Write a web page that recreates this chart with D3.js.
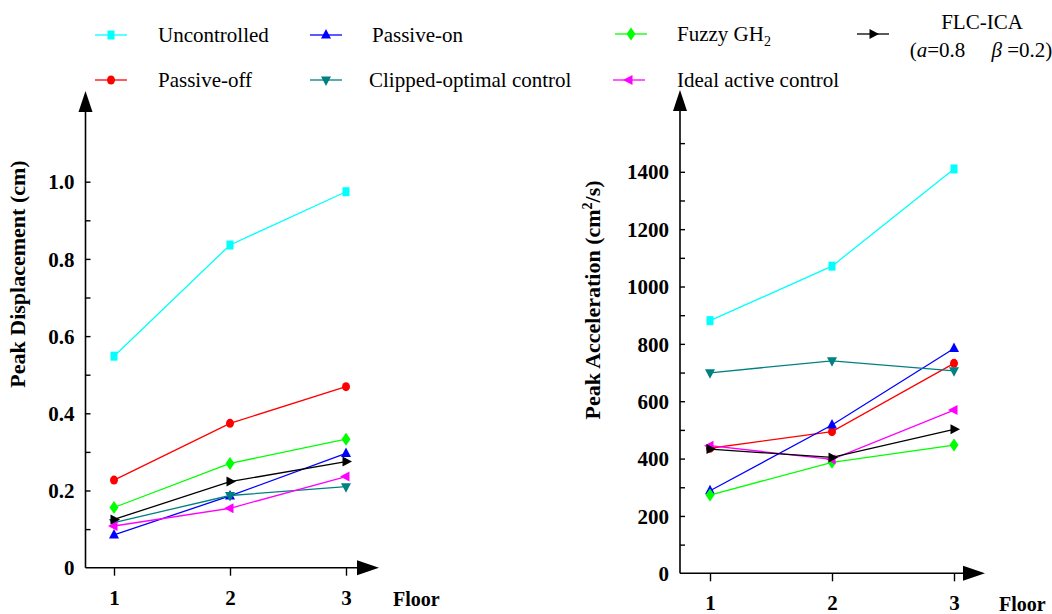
<!DOCTYPE html>
<html>
<head>
<meta charset="utf-8">
<script src="https://cdn.jsdelivr.net/npm/d3@7"></script>
<style>
  html, body { margin: 0; padding: 0; background: #fff; }
  svg { display: block; }
  text { font-family: "Liberation Serif", "Times New Roman", serif; fill: #000; }
</style>
</head>
<body>
<svg id="chart" width="1052" height="614"></svg>
<script>
// floors on the x axis
const floors = [1, 2, 3]

// peak displacement (cm)
const dispUncontrolled = [0.548, 0.836, 0.974]
const dispPassiveOff   = [0.227, 0.374, 0.469]
const dispPassiveOn    = [0.085, 0.186, 0.296]
const dispClipped      = [0.117, 0.187, 0.210]
const dispFuzzy        = [0.156, 0.270, 0.333]
const dispIdeal        = [0.108, 0.154, 0.236]
const dispFlcIca       = [0.125, 0.223, 0.275]

// peak acceleration (cm2/s)
const accUncontrolled = [881, 1071, 1410]
const accPassiveOff   = [436, 494, 732]
const accPassiveOn    = [288, 517, 784]
const accClipped      = [699, 741, 706]
const accFuzzy        = [273, 387, 447]
const accIdeal        = [445, 397, 569]
const accFlcIca       = [433, 404, 502]

const dispTicks = [0, 0.2, 0.4, 0.6, 0.8, 1.0]
const dispMinor = d3.range(1, 11).map(d => d / 10)
const accTicks = [0, 200, 400, 600, 800, 1000, 1200, 1400]
const accMinor = d3.range(100, 1600, 100)

const series = [
    { key: 'Uncontrolled', color: '#00ffff', shape: 'square', disp: dispUncontrolled, acc: accUncontrolled },
    { key: 'Passive-off', color: '#ff0000', shape: 'circle', disp: dispPassiveOff, acc: accPassiveOff },
    { key: 'Passive-on', color: '#0000ff', shape: 'up', disp: dispPassiveOn, acc: accPassiveOn },
    { key: 'Clipped-optimal control', color: '#008080', shape: 'down', disp: dispClipped, acc: accClipped },
    { key: 'Fuzzy GH2', color: '#00ff00', shape: 'diamond', disp: dispFuzzy, acc: accFuzzy },
    { key: 'Ideal active control', color: '#ff00ff', shape: 'left', disp: dispIdeal, acc: accIdeal },
    { key: 'FLC-ICA', color: '#000000', shape: 'right', disp: dispFlcIca, acc: accFlcIca }
]

const markerPath = {
    square: 'M-3.5,-4.5H3.5V4.5H-3.5Z',
    circle: 'M-4,0A4,4.5 0 1,0 4,0A4,4.5 0 1,0 -4,0Z',
    up: 'M0,-6L5,3.5L-5,3.5Z',
    down: 'M0,6L5,-3.5L-5,-3.5Z',
    left: 'M-6,0L3.5,-5L3.5,5Z',
    right: 'M6,0L-3.5,-5L-3.5,5Z',
    diamond: 'M0,-6.5L4.5,0L0,6.5L-4.5,0Z'
}

const svg = d3.select('#chart')

// one panel: axes with arrows, tick marks, lines and markers
const drawPanel = (opt) => {
    const g = svg.append('g')
    const x = d3.scaleLinear().domain([1, 3]).range(opt.xRange)
    const y = d3.scaleLinear().domain(opt.yDomain).range(opt.yRange)
    const x0 = opt.axisX, y0 = y(0)

    // y axis line + arrow
    g.append('line').attr('x1', x0).attr('x2', x0).attr('y1', y0).attr('y2', opt.arrowTop + 18)
        .attr('stroke', '#000').attr('stroke-width', 1.6)
    g.append('path').attr('d', `M${x0},${opt.arrowTop}L${x0 + 7},${opt.arrowTop + 21}L${x0 - 7},${opt.arrowTop + 21}Z`)
    // x axis line + arrow
    g.append('line').attr('x1', x0).attr('x2', opt.arrowRight - 18).attr('y1', y0).attr('y2', y0)
        .attr('stroke', '#000').attr('stroke-width', 1.6)
    g.append('path').attr('d', `M${opt.arrowRight},${y0}L${opt.arrowRight - 22},${y0 - 7.5}L${opt.arrowRight - 22},${y0 + 7.5}Z`)

    // y ticks point inward, labels on the left
    g.append('g').attr('transform', `translate(${x0},0)`)
        .call(d3.axisRight(y).tickValues(opt.minor).tickSize(5).tickFormat(''))
        .call(a => a.select('.domain').remove())
        .call(a => a.selectAll('line').attr('stroke-width', 1.4))
    g.append('g').attr('transform', `translate(${x0 - 8},0)`)
        .call(d3.axisLeft(y).tickValues(opt.major).tickSize(0).tickFormat(opt.fmt))
        .call(a => a.select('.domain').remove())
        .call(a => a.selectAll('text').attr('font-family', '"Liberation Serif", serif')
            .attr('font-size', 21).attr('font-weight', 'bold').attr('dy', '0.34em'))

    // x ticks point outward
    g.append('g').attr('transform', `translate(0,${y0})`)
        .call(d3.axisBottom(x).tickValues(floors).tickSize(8).tickFormat(d3.format('d')).tickPadding(14))
        .call(a => a.select('.domain').remove())
        .call(a => a.selectAll('line').attr('stroke-width', 1.4))
        .call(a => a.selectAll('text').attr('font-family', '"Liberation Serif", serif')
            .attr('font-size', 21).attr('font-weight', 'bold'))

    g.append('text').attr('x', opt.arrowRight + 14).attr('y', y0 + 38)
        .attr('font-size', 20).attr('font-weight', 'bold').text('Floor')

    // rotated y title
    const t = g.append('text')
        .attr('transform', `translate(${opt.titleX},${opt.titleY}) rotate(-90)`)
        .attr('text-anchor', 'middle').attr('font-size', 22).attr('font-weight', 'bold')
    if (opt.sup) {
        t.append('tspan').text('Peak Acceleration (cm')
        t.append('tspan').attr('font-size', 14).attr('dy', -8).text('2')
        t.append('tspan').attr('dy', 8).text('/s)')
    } else {
        t.text(opt.title)
    }

    const line = d3.line().x((d, i) => x(floors[i])).y(d => y(d))
    series.forEach(s => {
        const vals = s[opt.field]
        g.append('path').datum(vals).attr('d', line)
            .attr('fill', 'none').attr('stroke', s.color).attr('stroke-width', 1.3)
        g.selectAll(null).data(vals).enter().append('path')
            .attr('transform', (d, i) => `translate(${x(floors[i])},${y(d)})`)
            .attr('d', markerPath[s.shape]).attr('fill', s.color)
    })
}

drawPanel({
    field: 'disp', xRange: [114, 346], yDomain: [0, 1], yRange: [567.7, 181.7],
    axisX: 85.5, arrowTop: 91, arrowRight: 379,
    major: dispTicks, minor: dispMinor, fmt: d => d === 0 ? '0' : d3.format('.1f')(d),
    title: 'Peak Displacement (cm)', titleX: 25, titleY: 274
})
drawPanel({
    field: 'acc', xRange: [710, 954], yDomain: [0, 1400], yRange: [573.3, 171.8],
    axisX: 680, arrowTop: 90, arrowRight: 985,
    major: accTicks, minor: accMinor, fmt: d3.format('d'),
    sup: true, titleX: 600, titleY: 300
})

// legend
const legendPos = [
    { x: 95, y: 35, tx: 158 }, { x: 95, y: 80, tx: 158 },
    { x: 310, y: 35, tx: 372 }, { x: 310, y: 80, tx: 369 },
    { x: 615, y: 34, tx: 677 }, { x: 613, y: 80, tx: 677 },
    { x: 857, y: 34, tx: null }
]
const lg = svg.append('g')
series.forEach((s, i) => {
    const p = legendPos[i]
    lg.append('line').attr('x1', p.x).attr('x2', p.x + 32).attr('y1', p.y).attr('y2', p.y)
        .attr('stroke', s.color).attr('stroke-width', 1.3)
    lg.append('path').attr('transform', `translate(${p.x + 16},${p.y})`)
        .attr('d', markerPath[s.shape]).attr('fill', s.color)
    if (s.key === 'Fuzzy GH2') {
        const t = lg.append('text').attr('x', p.tx).attr('y', p.y + 7).attr('font-size', 21)
        t.append('tspan').text('Fuzzy GH')
        t.append('tspan').attr('font-size', 14).attr('dy', 5).text('2')
    } else if (s.key === 'FLC-ICA') {
        lg.append('text').attr('x', 982).attr('y', 29).attr('text-anchor', 'middle')
            .attr('font-size', 21).text('FLC-ICA')
        const t = lg.append('text').attr('x', 981).attr('y', 57).attr('text-anchor', 'middle')
            .attr('font-size', 21)
        t.append('tspan').text('(')
        t.append('tspan').attr('font-style', 'italic').text('a')
        t.append('tspan').text('=0.8\u2003 ')
        t.append('tspan').attr('font-style', 'italic').text('\u03b2')
        t.append('tspan').text(' =0.2)')
    } else {
        lg.append('text').attr('x', p.tx).attr('y', p.y + 7).attr('font-size', 21).text(s.key)
    }
})
</script>
</body>
</html>
